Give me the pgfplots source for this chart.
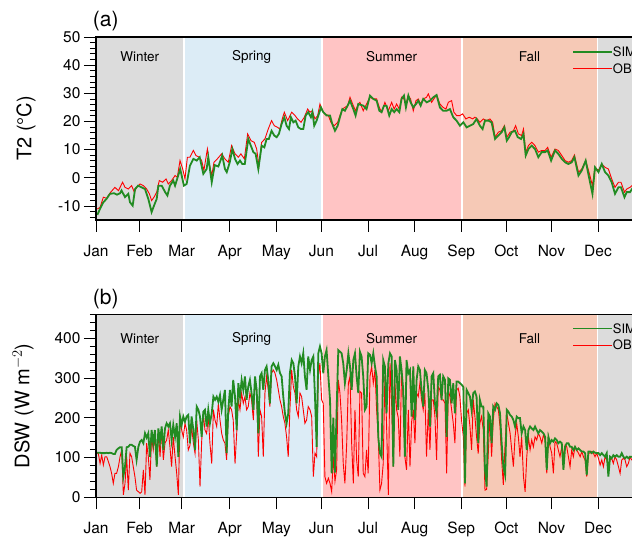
\documentclass[border=0pt]{standalone}
\usepackage{fontspec}
\setmainfont{TeX Gyre Heros}
\usepackage{pgfplots}
\pgfplotsset{compat=1.18}
\usepackage{pgfplotstable}

\definecolor{wint}{RGB}{220,220,220}
\definecolor{spr}{RGB}{220,236,246}
\definecolor{summ}{RGB}{255,196,196}
\definecolor{fallc}{RGB}{246,201,182}
\definecolor{simgreen}{RGB}{34,139,34}
\definecolor{obsred}{RGB}{255,0,0}

% daily 2 m temperature, simulated
\pgfplotstableread{
day t
0.9 -13.2
2.7 -11.0
4.9 -8.7
7.0 -7.5
9.3 -5.7
12.0 -5.5
14.0 -6.0
16.0 -5.5
17.0 -4.5
19.3 -6.9
21.5 -5.7
22.6 -8.7
24.4 -9.9
26.0 -4.0
28.0 -2.8
30.4 -3.4
32.6 -4.0
34.8 -7.5
37.0 -12.2
38.6 -9.9
40.4 -7.5
41.5 -2.8
43.7 -2.8
46.0 -5.1
47.5 -6.3
49.2 -2.8
51.4 -1.0
52.6 -2.8
54.0 -0.4
56.0 3.1
57.0 0.8
58.5 -2.8
60.3 -2.2
62.5 4.3
64.8 6.7
67.0 6.1
69.0 7.3
71.4 1.4
73.6 3.1
74.7 7.3
77.0 -1.6
79.0 4.5
81.4 4.0
84.0 7.9
85.8 3.1
87.0 2.0
89.0 5.5
90.7 10.2
92.5 6.7
94.2 4.9
95.8 6.1
97.3 4.9
99.0 4.9
101.3 13.8
103.0 11.4
104.7 9.1
106.2 8.5
108.0 3.1
110.2 11.4
112.0 10.8
113.5 13.8
115.0 13.8
116.8 16.7
118.6 15.0
120.2 14.4
121.7 15.6
123.5 19.1
125.3 21.5
126.8 18.5
128.4 17.3
129.7 21.5
131.3 19.7
132.8 20.3
134.6 17.9
136.4 17.3
137.9 17.3
139.5 22.1
141.2 23.3
143.0 21.5
144.0 23.3
145.2 18.5
146.8 20.3
148.3 22.7
149.7 25.0
151.2 23.3
153.4 22.1
155.7 22.1
157.2 19.1
159.0 16.7
160.8 18.5
162.3 21.5
163.9 24.4
165.6 23.8
167.4 25.6
169.0 27.4
171.2 24.4
172.7 22.1
174.5 26.2
177.8 25.6
180.0 24.4
182.3 29.2
184.5 28.0
186.7 27.4
188.5 23.8
190.0 23.3
191.6 25.6
193.3 25.6
195.1 22.1
196.7 24.4
198.4 23.3
200.0 24.4
201.8 23.3
203.3 28.0
204.9 29.2
206.2 25.0
207.8 29.2
209.3 26.8
211.1 25.0
212.9 26.2
214.4 27.4
216.0 25.6
217.7 28.0
220.0 26.8
222.2 27.4
224.4 28.6
226.6 29.4
228.8 25.0
231.0 23.8
233.3 23.8
235.5 24.4
237.7 21.5
239.9 20.3
242.1 18.5
244.4 19.7
246.6 17.9
248.8 18.5
251.0 19.1
253.2 20.9
255.4 18.5
257.2 17.3
258.8 20.3
261.0 20.3
263.2 19.7
265.5 13.8
267.7 15.0
269.9 16.2
271.7 17.9
273.3 13.2
274.8 14.4
276.6 16.2
278.8 16.7
280.6 14.4
282.8 13.8
284.4 15.5
285.9 7.9
287.7 10.2
289.9 11.4
292.1 10.2
294.3 7.3
296.5 9.1
298.8 9.1
300.5 9.7
302.8 6.1
305.4 9.7
307.6 8.5
309.9 6.7
312.1 5.5
314.3 4.9
316.5 5.5
318.3 7.3
321.0 0.8
323.2 2.6
325.8 6.1
328.0 0.2
330.3 -5.7
332.0 3.7
334.3 2.0
336.5 4.9
338.7 2.0
340.9 0.8
343.1 -1.6
345.3 -5.7
347.6 -3.4
349.3 -3.4
351.6 -6.9
353.1 -5.1
355.3 -5.1
356.6 -4.0
358.0 -5.0
360.0 -4.5
362.0 -5.5
364.0 -5.0
}\tsim

% daily 2 m temperature, observed
\pgfplotstableread{
day t
0.9 -11.1
2.7 -10.5
4.9 -6.9
7.1 -7.3
8.2 -6.3
9.8 -5.1
12.6 -3.4
14.9 -4.6
17.7 -1.6
19.3 -3.4
21.5 -4.0
23.7 -2.8
25.5 -5.1
27.0 -3.4
29.3 -2.2
31.5 -2.8
33.7 -4.0
35.5 -5.7
37.0 -8.1
38.6 -6.9
40.4 -5.1
42.1 -1.0
44.3 -1.6
46.6 -0.4
48.1 -2.2
50.3 -1.0
52.6 0.8
54.1 0.2
55.9 6.1
57.7 3.1
59.2 -0.4
60.8 7.3
62.5 7.3
64.8 9.7
66.5 7.9
68.7 7.3
70.3 6.1
71.8 2.6
74.1 10.2
75.4 4.9
77.0 0.8
78.5 5.5
80.7 6.7
83.6 8.5
85.8 6.7
88.0 5.5
90.2 11.4
92.5 8.5
94.7 7.3
96.4 8.5
98.7 6.7
100.9 15.6
103.1 13.2
105.3 12.6
106.9 10.2
108.4 4.3
110.2 12.6
112.4 13.8
114.6 17.3
116.8 20.3
118.6 18.5
120.8 17.9
122.4 17.3
123.9 20.9
125.3 23.3
127.5 20.3
130.2 23.3
132.4 22.1
134.1 20.9
136.4 19.7
138.6 21.5
140.8 24.4
142.4 23.3
143.9 23.8
145.7 20.9
147.5 22.1
149.0 26.2
150.6 23.8
152.3 22.7
154.6 22.1
156.3 19.7
158.5 18.5
160.8 19.7
162.3 22.1
163.9 24.4
165.6 25.0
167.4 25.6
169.0 28.6
171.2 25.6
172.7 23.8
174.5 26.2
175.6 26.8
177.8 23.8
180.0 26.2
182.3 28.6
184.5 28.0
186.7 28.0
188.5 25.0
190.0 23.3
192.2 26.8
194.5 23.8
196.7 26.8
198.4 24.4
200.0 26.2
201.8 24.4
203.3 28.6
204.9 28.0
206.2 26.2
207.8 29.2
209.3 28.0
211.1 23.8
212.9 27.4
214.4 28.0
216.0 26.2
217.7 28.0
219.9 28.6
221.1 29.8
223.3 26.8
224.8 28.0
226.6 29.4
228.8 26.2
231.0 25.0
232.8 24.4
234.4 26.8
236.6 27.4
238.1 23.3
239.9 22.1
242.1 22.1
243.9 22.7
246.1 20.9
248.3 21.5
250.6 20.9
252.1 21.5
253.7 20.9
255.4 19.7
257.7 20.9
259.9 20.3
262.1 20.9
263.9 19.7
265.5 14.4
267.7 16.2
269.9 16.7
271.7 18.5
273.3 14.4
275.5 16.2
277.7 16.7
279.2 18.5
281.0 15.6
283.2 15.0
284.4 17.3
285.9 9.1
287.7 11.4
289.9 12.6
292.1 11.4
294.3 9.1
296.5 9.7
298.8 9.7
300.5 10.8
302.8 7.3
305.4 10.2
307.6 9.7
309.9 7.9
312.1 6.1
314.3 5.5
316.5 6.1
318.3 8.1
321.0 2.0
323.2 3.1
325.8 6.1
328.0 2.0
330.3 -2.8
332.0 3.7
334.3 2.6
336.5 4.9
338.7 3.7
340.9 3.1
343.1 -0.4
345.3 -3.4
347.6 -1.6
349.3 -1.6
351.6 -5.1
353.1 -4.0
355.3 -3.4
356.6 -2.8
358.0 -3.5
360.0 -4.0
362.0 -3.0
364.0 -4.0
}\tobs

% daily downward shortwave radiation, simulated and observed
\pgfplotstableread{
day sim obs
0.4 112 110
1.5 112 111
2.7 112 85
3.8 111 106
4.9 111 81
6.0 111 102
7.1 112 102
8.2 111 90
9.3 112 77
10.4 111 60
11.5 109 35
12.6 109 60
13.7 119 60
14.9 123 77
16.0 126 102
17.1 126 119
18.2 52 6
19.3 77 35
20.4 126 102
21.5 127 18
22.6 132 111
23.7 132 102
24.8 129 77
25.9 127 52
27.0 94 18
28.2 127 14
29.3 140 10
30.4 144 14
31.5 136 69
32.6 161 6
33.7 150 136
34.8 161 102
35.9 102 44
37.0 169 152
38.1 136 119
39.2 169 152
40.4 77 77
41.5 173 169
42.6 140 102
43.7 178 169
44.8 119 94
45.9 173 136
47.0 186 144
48.1 178 169
49.2 186 127
50.3 144 77
51.4 182 152
52.6 152 102
53.7 186 60
54.8 102 6
55.9 203 198
57.0 182 169
58.1 203 152
59.2 190 186
60.3 203 169
61.4 207 119
62.5 136 130
63.6 203 178
64.8 169 136
65.9 119 110
67.0 228 194
68.1 220 144
69.2 203 27
70.3 152 140
71.4 215 211
72.5 220 169
73.6 178 160
74.7 220 203
75.8 186 136
77.0 211 85
78.1 253 220
79.2 245 194
80.3 253 178
81.4 240 236
82.5 257 194
83.6 220 161
84.7 245 144
85.8 270 136
86.9 111 94
88.0 220 203
89.1 270 228
90.2 228 220
91.3 295 194
92.5 253 85
93.6 169 160
94.7 287 245
95.8 253 220
96.9 295 262
98.0 270 236
99.1 304 253
100.2 245 220
101.3 278 228
102.4 295 262
103.5 262 245
104.7 220 194
105.8 304 295
106.9 270 262
108.0 161 102
109.1 304 220
110.2 312 203
111.3 270 102
112.4 320 262
113.5 329 304
114.6 295 270
115.7 236 228
116.8 329 312
118.0 337 320
119.1 329 312
120.2 320 295
121.3 333 270
122.4 312 245
123.5 304 228
124.6 253 203
125.7 211 186
126.8 186 152
127.9 211 102
129.0 312 220
130.2 345 320
131.3 337 278
132.4 304 262
133.5 236 220
134.6 329 203
135.7 354 262
136.8 337 253
137.9 362 220
139.0 304 186
140.1 270 194
141.2 354 228
142.4 320 220
143.5 345 203
144.6 354 52
145.7 253 111
146.8 127 102
147.9 362 304
149.0 379 337
150.1 362 245
151.2 312 236
152.3 354 52
153.4 370 35
154.6 304 48
155.7 245 35
156.8 60 14
157.9 200 102
159.0 62 40
160.1 220 69
161.2 370 295
162.3 366 262
163.4 362 194
164.5 337 85
165.6 287 35
166.8 320 136
167.9 362 287
169.0 329 304
170.1 270 136
171.2 345 35
172.3 362 220
173.4 304 94
174.5 262 52
175.6 366 266
176.7 354 262
177.8 304 60
178.9 220 52
180.0 228 119
181.1 362 60
182.3 358 304
183.4 337 329
184.5 362 287
185.6 329 320
186.7 304 220
187.8 152 152
188.9 111 18
190.0 102 35
191.1 345 85
192.2 329 304
193.3 211 186
194.5 337 6
195.6 362 337
196.7 354 236
197.8 77 77
198.9 345 287
200.0 320 220
201.1 220 200
202.2 354 102
203.3 320 320
204.4 270 245
205.5 102 102
206.6 345 69
207.8 312 220
208.9 320 77
210.0 203 190
211.1 329 220
212.2 194 136
213.3 295 262
214.4 329 253
215.5 320 287
216.6 270 245
217.7 228 220
218.8 320 262
219.9 312 102
221.1 270 220
222.2 178 119
223.3 304 245
224.4 312 245
225.5 236 203
226.6 211 94
227.7 304 278
228.8 308 270
229.9 245 245
231.0 304 245
232.2 295 236
233.3 152 60
234.4 299 270
235.5 295 253
236.6 236 220
237.7 287 186
238.8 211 136
239.9 291 270
241.0 291 274
242.1 287 253
243.2 283 194
244.4 278 152
245.5 35 27
246.6 270 211
247.7 262 220
248.8 253 178
249.9 220 119
251.0 262 245
252.1 266 203
253.2 253 152
254.3 136 110
255.4 245 186
256.5 228 203
257.7 228 169
258.8 69 18
259.9 27 20
261.0 211 110
262.1 203 203
263.2 136 102
264.3 228 194
265.5 220 236
266.6 236 228
267.7 232 220
268.8 211 178
269.9 136 94
271.0 77 31
272.2 56 136
273.3 220 211
274.4 215 186
275.5 207 161
276.6 203 119
277.7 194 77
278.8 178 152
279.9 203 186
281.0 199 152
282.1 199 102
283.2 161 152
284.4 178 52
285.5 169 14
286.6 119 102
287.7 169 152
288.8 178 119
289.9 173 144
291.0 169 127
292.1 178 152
293.2 169 144
294.3 161 161
295.4 169 152
296.6 165 136
297.7 161 157
298.8 152 144
299.9 69 60
301.0 152 152
302.1 136 127
303.2 144 111
304.3 140 60
305.4 148 140
306.5 144 136
307.6 136 119
308.7 140 102
309.9 136 127
311.0 69 102
312.1 127 131
313.2 136 127
314.3 136 102
315.4 127 77
316.5 127 119
317.6 119 102
318.7 127 127
319.8 119 119
321.0 123 111
322.1 119 102
323.2 115 115
324.3 115 102
325.4 111 94
326.5 56 52
327.6 115 111
328.7 115 111
329.8 111 115
330.9 115 111
332.0 112 102
333.1 111 111
334.3 111 98
335.4 106 81
336.5 111 94
337.6 106 77
338.7 102 102
339.8 111 94
340.9 52 77
342.0 102 94
343.1 98 98
344.2 106 85
345.3 102 102
346.4 106 94
347.6 102 77
348.7 102 60
349.8 111 94
350.9 102 98
352.0 98 94
353.1 102 77
354.2 98 85
355.3 102 102
356.4 102 94
358.0 100 92
360.0 104 88
362.0 98 96
364.0 101 90
}\dsw

\tikzset{season/.style={font=\fontsize{13.5}{15}\selectfont},
  panellabel/.style={anchor=west, inner sep=0pt, font=\fontsize{21}{24}\selectfont}}

\pgfplotsset{
  panel/.style={
    scale only axis, width=548.6pt, height=183pt,
    xmin=0, xmax=365,
    xtick={0,29,57,89,120,150,181,212,243,273,303,334},
    xticklabels={Jan,Feb,Mar,Apr,May,Jun,Jul,Aug,Sep,Oct,Nov,Dec},
    xtick pos=bottom, ytick pos=left,
    tick align=outside,
    major tick length=12pt, minor tick length=6pt,
    every tick/.style={black, line width=0.8pt},
    axis line style={black, line width=1.2pt},
    tick label style={font=\fontsize{15.5}{17}\selectfont},
    xticklabel style={yshift=-9.5pt},
    /pgf/number format/assume math mode=true,
    every axis y label/.style={rotate=90, anchor=center, font=\fontsize{20}{22}\selectfont},
    axis on top,
    clip mode=individual,
    legend image code/.code={\draw[##1] (0pt,0pt) -- (39pt,0pt);},
    legend style={draw=none, fill=none, anchor=north west,
      font=\fontsize{13}{15}\selectfont, row sep=7pt,
      nodes={inner xsep=0pt, inner ysep=0pt, text height=9.5pt, text depth=0pt}},
    legend cell align=left,
  },
  simline/.style={simgreen, line width=1.8pt},
  obsline/.style={obsred, line width=0.9pt},
}

\begin{document}
\begin{tikzpicture}

% (a) T2
\begin{axis}[panel,
  at={(96pt,316pt)}, anchor=south west,
  ymin=-15, ymax=50,
  ytick={-10,0,...,50},
  minor ytick={-14,-12,...,48},
  ylabel={T2 (\textdegree C)},
  every axis y label/.append style={at={(axis description cs:-0.1276,0.5)}},
  legend style={at={(axis description cs:0.862,0.955)}},
]
\addplot[draw=none, fill=wint, forget plot] coordinates {(0,-15) (58.5,-15) (58.5,50) (0,50)} -- cycle;
\addplot[draw=none, fill=spr, forget plot] coordinates {(58.5,-15) (150.5,-15) (150.5,50) (58.5,50)} -- cycle;
\addplot[draw=none, fill=summ, forget plot] coordinates {(150.5,-15) (243.5,-15) (243.5,50) (150.5,50)} -- cycle;
\addplot[draw=none, fill=fallc, forget plot] coordinates {(243.5,-15) (333.5,-15) (333.5,50) (243.5,50)} -- cycle;
\addplot[draw=none, fill=wint, forget plot] coordinates {(333.5,-15) (365,-15) (365,50) (333.5,50)} -- cycle;
\addplot[white, line width=1.5pt, forget plot] coordinates {(58.5,-15) (58.5,50)};
\addplot[white, line width=1.5pt, forget plot] coordinates {(150.5,-15) (150.5,50)};
\addplot[white, line width=1.5pt, forget plot] coordinates {(243.5,-15) (243.5,50)};
\addplot[white, line width=1.5pt, forget plot] coordinates {(333.5,-15) (333.5,50)};
\addplot[obsline, forget plot] table[x=day, y=t] {\tobs};
\addplot[simline, forget plot] table[x=day, y=t] {\tsim};
\addlegendimage{simline}
\addlegendentry{SIM}
\addlegendimage{obsline}
\addlegendentry{OBS}
\node[season] at (axis cs:29.1,42.9) {Winter};
\node[season] at (axis cs:103.6,42.9) {Spring};
\node[season] at (axis cs:196.7,42.9) {Summer};
\node[season] at (axis cs:288.4,42.9) {Fall};
\node[panellabel] at (axis description cs:-0.006,1.088) {(a)};
\end{axis}

% (b) DSW
\begin{axis}[panel,
  at={(96pt,38.7pt)}, anchor=south west,
  ymin=0, ymax=460,
  ytick={0,100,...,400},
  minor ytick={20,40,...,460},
  ylabel={DSW (W m$^{-2}$)},
  every axis y label/.append style={at={(axis description cs:-0.133,0.5)}},
  legend style={at={(axis description cs:0.862,0.96)}},
]
\addplot[draw=none, fill=wint, forget plot] coordinates {(0,0) (58.5,0) (58.5,460) (0,460)} -- cycle;
\addplot[draw=none, fill=spr, forget plot] coordinates {(58.5,0) (150.5,0) (150.5,460) (58.5,460)} -- cycle;
\addplot[draw=none, fill=summ, forget plot] coordinates {(150.5,0) (243.5,0) (243.5,460) (150.5,460)} -- cycle;
\addplot[draw=none, fill=fallc, forget plot] coordinates {(243.5,0) (333.5,0) (333.5,460) (243.5,460)} -- cycle;
\addplot[draw=none, fill=wint, forget plot] coordinates {(333.5,0) (365,0) (365,460) (333.5,460)} -- cycle;
\addplot[white, line width=1.5pt, forget plot] coordinates {(58.5,0) (58.5,460)};
\addplot[white, line width=1.5pt, forget plot] coordinates {(150.5,0) (150.5,460)};
\addplot[white, line width=1.5pt, forget plot] coordinates {(243.5,0) (243.5,460)};
\addplot[white, line width=1.5pt, forget plot] coordinates {(333.5,0) (333.5,460)};
\addplot[obsline, forget plot] table[x=day, y=obs] {\dsw};
\addplot[simline, forget plot] table[x=day, y=sim] {\dsw};
\addlegendimage{simline}
\addlegendentry{SIM}
\addlegendimage{obsline}
\addlegendentry{OBS}
\node[season] at (axis cs:29.1,398) {Winter};
\node[season] at (axis cs:103.6,398) {Spring};
\node[season] at (axis cs:196.7,398) {Summer};
\node[season] at (axis cs:288.4,398) {Fall};
\node[panellabel] at (axis description cs:-0.006,1.084) {(b)};
\end{axis}

\pgfresetboundingbox
\path[use as bounding box] (0,0) rectangle (632pt,536pt);
\end{tikzpicture}
\end{document}
